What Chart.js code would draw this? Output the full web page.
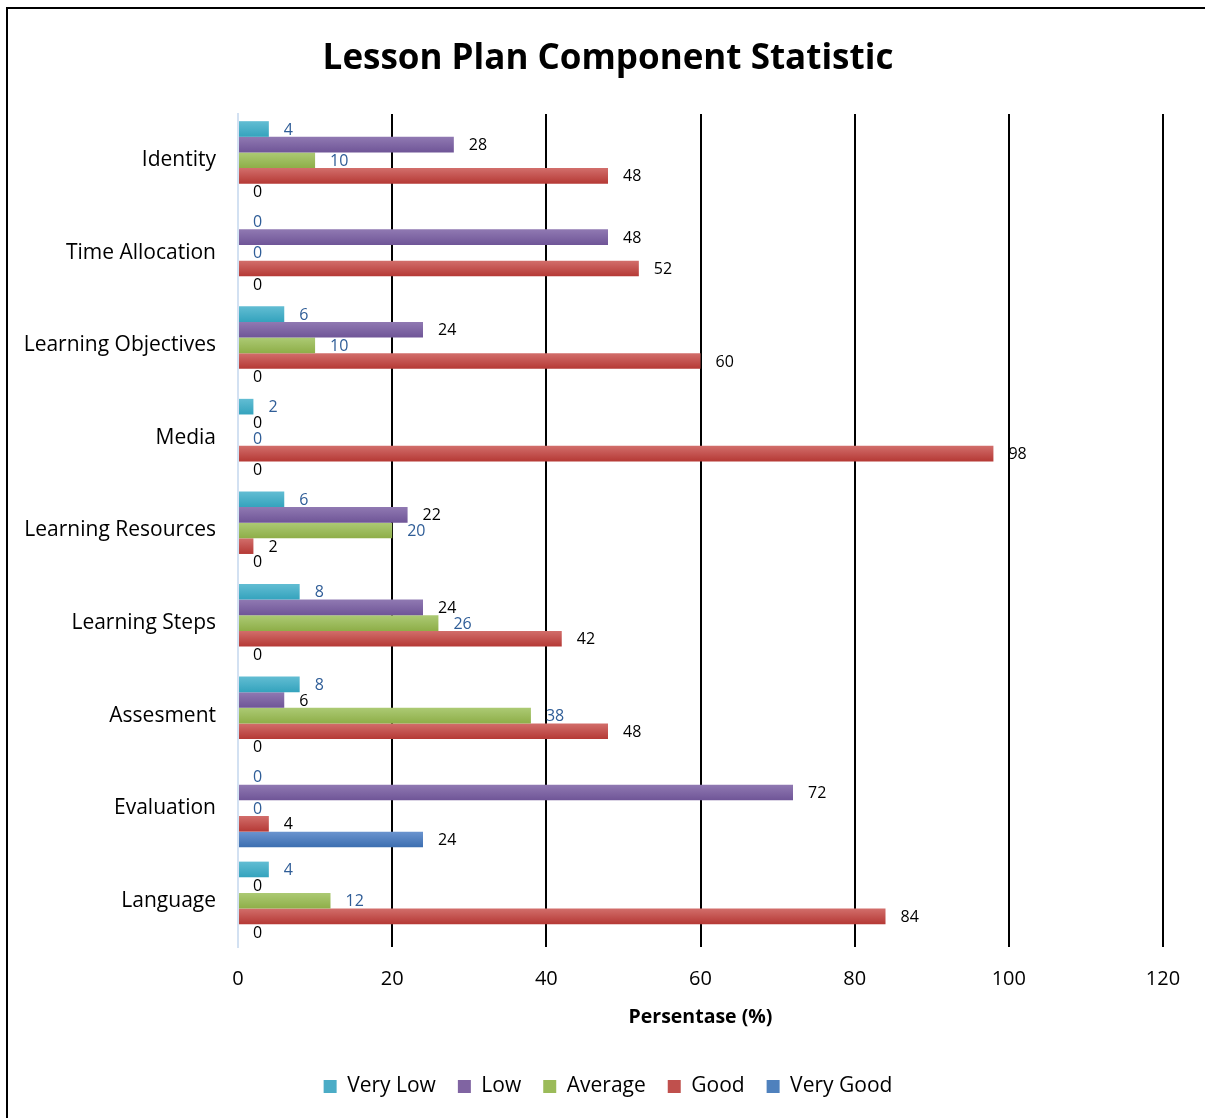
<!DOCTYPE html>
<html>
<head>
<meta charset="utf-8">
<script src="https://cdn.jsdelivr.net/npm/chart.js@4.4.1/dist/chart.umd.min.js"></script>
<style>
    html, body { margin: 0; padding: 0; background: #fff; overflow: hidden; }
    #frame {
        position: absolute;
        left: 6px;
        top: 7px;
        width: 1220px;
        height: 1140px;
        border: 2px solid #000;
    }
    #chart { position: absolute; left: 0; top: 0; }
</style>
</head>
<body>
<div id="frame">
    <canvas id="chart" width="1200" height="1098"></canvas>
</div>
<script>
const categories = [
    "Identity", "Time Allocation", "Learning Objectives", "Media", "Learning Resources",
    "Learning Steps", "Assesment", "Evaluation", "Language",
];
const veryLow = [4, 0, 6, 2, 6, 8, 8, 0, 4];
const low = [28, 48, 24, 0, 22, 24, 6, 72, 0];
const average = [10, 0, 10, 0, 20, 26, 38, 0, 12];
const good = [48, 52, 60, 98, 2, 42, 48, 4, 84];
const veryGood = [0, 0, 0, 0, 0, 0, 0, 24, 0];
const xTicks = [0, 20, 40, 60, 80, 100, 120];

const FONT = "'Open Sans', 'Noto Sans', sans-serif";
const LABEL_BLUE = "#2f5d97";

function barFill(top, bottom, flat) {
    return (ctx) => {
        const el = ctx.element;
        if (!el || typeof el.y !== "number" || !el.height) {
            return flat;
        }
        const g = ctx.chart.ctx.createLinearGradient(0, el.y - el.height / 2, 0, el.y + el.height / 2);
        g.addColorStop(0, top);
        g.addColorStop(1, bottom);
        return g;
    };
}

function series(label, data, top, bottom, flat, labelColor) {
    return {
        label: label,
        data: data,
        backgroundColor: barFill(top, bottom, flat),
        borderWidth: 0,
        labelColor: labelColor,
        flatColor: flat,
    };
}

const valueLabels = {
    id: "valueLabels",
    afterDatasetsDraw(chart) {
        const ctx = chart.ctx;
        ctx.save();
        ctx.font = "16px " + FONT;
        ctx.textAlign = "left";
        ctx.textBaseline = "middle";
        chart.data.datasets.forEach((ds, i) => {
            const meta = chart.getDatasetMeta(i);
            meta.data.forEach((bar, j) => {
                ctx.fillStyle = ds.labelColor;
                ctx.fillText(String(ds.data[j]), bar.x + 15, bar.y + 1);
            });
        });
        ctx.restore();
    },
};

const chart = new Chart(document.getElementById("chart"), {
    type: "bar",
    data: {
        labels: categories,
        datasets: [
            series("Very Low", veryLow, "#62bdd3", "#34a3bd", "#4bacc6", LABEL_BLUE),
            series("Low", low, "#9079b2", "#6f5597", "#8064a2", "#000"),
            series("Average", average, "#acca74", "#8eae48", "#9bbb59", LABEL_BLUE),
            series("Good", good, "#d26e6b", "#b53935", "#c0504d", "#000"),
            series("Very Good", veryGood, "#6b94cf", "#3c6eb0", "#4f81bd", "#000"),
        ],
    },
    options: {
        indexAxis: "y",
        responsive: false,
        animation: false,
        events: [],
        layout: { padding: 0 },
        datasets: {
            bar: { categoryPercentage: 0.845, barPercentage: 1 },
        },
        plugins: {
            title: {
                display: true,
                text: "Lesson Plan Component Statistic",
                color: "#000",
                font: { family: FONT, size: 35, weight: "bold" },
                padding: { top: 29, bottom: 34 },
            },
            legend: {
                position: "bottom",
                labels: {
                    color: "#000",
                    font: { family: FONT, size: 21 },
                    boxWidth: 13,
                    boxHeight: 13,
                    padding: 22,
                    generateLabels(chart) {
                        return chart.data.datasets.map((ds, i) => ({
                            text: ds.label,
                            fillStyle: ds.flatColor,
                            strokeStyle: ds.flatColor,
                            lineWidth: 0,
                            fontColor: "#000",
                            datasetIndex: i,
                        }));
                    },
                },
            },
            tooltip: { enabled: false },
        },
        scales: {
            x: {
                min: 0,
                max: 120,
                afterBuildTicks: (scale) => {
                    scale.ticks = xTicks.map((v) => ({ value: v }));
                },
                afterFit: (scale) => {
                    scale.height = 107;
                },
                grid: {
                    color: (ctx) => (ctx.tick && ctx.tick.value === 0 ? "rgba(0,0,0,0)" : "#000"),
                    lineWidth: 2,
                    drawTicks: false,
                },
                border: { display: false },
                ticks: {
                    color: "#000",
                    padding: 20,
                    font: { family: FONT, size: 20 },
                },
                title: {
                    display: true,
                    text: "Persentase (%)",
                    color: "#000",
                    font: { family: FONT, size: 19.5, weight: "bold" },
                    padding: { top: 0, bottom: 25 },
                },
            },
            y: {
                afterFit: (scale) => {
                    scale.width = 230;
                },
                grid: { display: false, drawTicks: false },
                border: { display: true, color: "#d3e1f2", width: 2 },
                ticks: {
                    color: "#000",
                    padding: 22,
                    font: { family: FONT, size: 21 },
                },
            },
            yRight: {
                type: "category",
                position: "right",
                labels: categories,
                afterFit: (scale) => {
                    scale.width = 45;
                },
                grid: { display: false, drawTicks: false },
                border: { display: false },
                ticks: { display: false },
            },
        },
    },
    plugins: [valueLabels],
});

chart.update("none");
</script>
</body>
</html>
